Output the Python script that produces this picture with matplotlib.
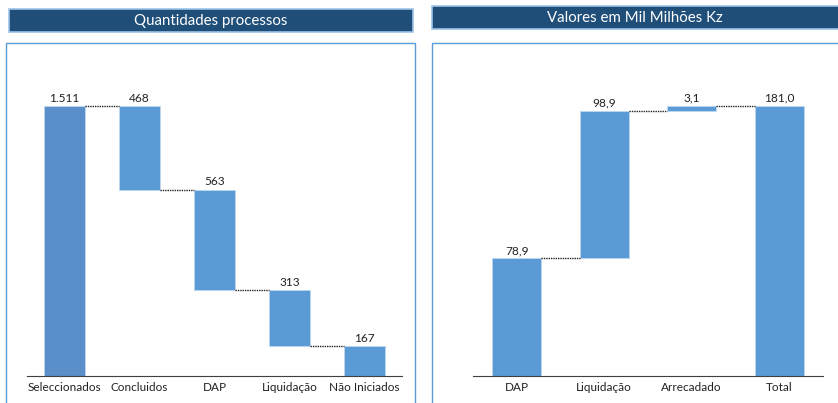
import matplotlib.pyplot as plt
from matplotlib.patches import Rectangle

plt.rcParams['font.family'] = ['Lato', 'DejaVu Sans']

# dados
cat_q = ['Seleccionados', 'Concluidos', 'DAP', 'Liquidação', 'Não Iniciados']
val_q = [1511, 468, 563, 313, 167]
lbl_q = ['1.511', '468', '563', '313', '167']

cat_v = ['DAP', 'Liquidação', 'Arrecadado', 'Total']
val_v = [78.9, 98.9, 3.1, 181.0]
lbl_v = ['78,9', '98,9', '3,1', '181,0']

W, H = 838, 403
fig = plt.figure(figsize=(W / 100, H / 100), dpi=100)

def px_rect(x0, y0, x1, y1, **kw):
    # retangulo em pixels (origem no topo)
    r = Rectangle((x0 / W, 1 - y1 / H), (x1 - x0) / W, (y1 - y0) / H,
                  transform=fig.transFigure, zorder=-10, **kw)
    fig.patches.append(r)

# caixas e titulos
px_rect(6, 43, 415, 410, facecolor='white', edgecolor='#5B9BD5', lw=1)
px_rect(432, 43, 845, 410, facecolor='white', edgecolor='#5B9BD5', lw=1)
px_rect(9, 9, 413, 32, facecolor='#1F4E79', edgecolor='#9DC3E6', lw=1.2)
px_rect(432, 6, 845, 29, facecolor='#1F4E79', edgecolor='#9DC3E6', lw=1.2)
fig.text(211 / W, 1 - 21 / H, 'Quantidades processos', color='white',
         ha='center', va='center', fontsize=10.8)
fig.text(635 / W, 1 - 18 / H, 'Valores em Mil Milhões Kz', color='white',
         ha='center', va='center', fontsize=10.8)

# grafico esquerdo (decrescente)
bot_q = [0]
hgt_q = [val_q[0]]
run = val_q[0]
for v in val_q[1:]:
    run -= v
    bot_q.append(run)
    hgt_q.append(v)
ax1 = fig.add_axes([27 / W, 1 - 376 / H, 375 / W, 316 / H])
ax1.set_ylim(0, 1768)
cols_q = ['#5B8FC9'] + ['#5B9BD5'] * 4
x = range(len(cat_q))
ax1.bar(x, hgt_q, bottom=bot_q, width=0.55, color=cols_q,
        edgecolor='#BDD7EE', linewidth=0.6)
for i in x:
    ax1.text(i, bot_q[i] + hgt_q[i] + 12, lbl_q[i], ha='center', va='bottom',
             fontsize=8.6, color='#222222')
for i in range(len(cat_q) - 1):
    lvl = bot_q[i]
    if i == 0:
        lvl = hgt_q[0]
    ax1.plot([i + 0.275, i + 1 - 0.275], [lvl, lvl], ls=(0, (1, 0.7)),
             color='#222222', lw=1.0)

# grafico direito (crescente)
bot_v = [0]
hgt_v = [val_v[0]]
run = val_v[0]
for v in val_v[1:-1]:
    bot_v.append(run)
    hgt_v.append(v)
    run += v
bot_v.append(0)
hgt_v.append(val_v[-1])
ax2 = fig.add_axes([473 / W, 1 - 376 / H, 350 / W, 316 / H])
ax2.set_ylim(0, 211.8)
x2 = range(len(cat_v))
ax2.bar(x2, hgt_v, bottom=bot_v, width=0.56, color='#5B9BD5',
        edgecolor='#BDD7EE', linewidth=0.6)
for i in x2:
    ax2.text(i, bot_v[i] + hgt_v[i] + 1.5, lbl_v[i], ha='center', va='bottom',
             fontsize=8.6, color='#222222')
for i in range(len(cat_v) - 1):
    lvl = bot_v[i] + hgt_v[i]
    ax2.plot([i + 0.28, i + 1 - 0.28], [lvl, lvl], ls=(0, (1, 0.7)),
             color='#222222', lw=1.0)

for ax, cats in [(ax1, cat_q), (ax2, cat_v)]:
    ax.set_facecolor('none')
    ax.set_xticks(list(range(len(cats))))
    ax.set_xticklabels(cats, fontsize=8.5, color='#222222')
    ax.tick_params(axis='x', length=0, pad=4)
    ax.set_yticks([])
    for s in ['top', 'left', 'right']:
        ax.spines[s].set_visible(False)
    ax.spines['bottom'].set_color('#404040')
    ax.set_xlim(-0.5, len(cats) - 0.5)

fig.savefig('out.png', dpi=100)
